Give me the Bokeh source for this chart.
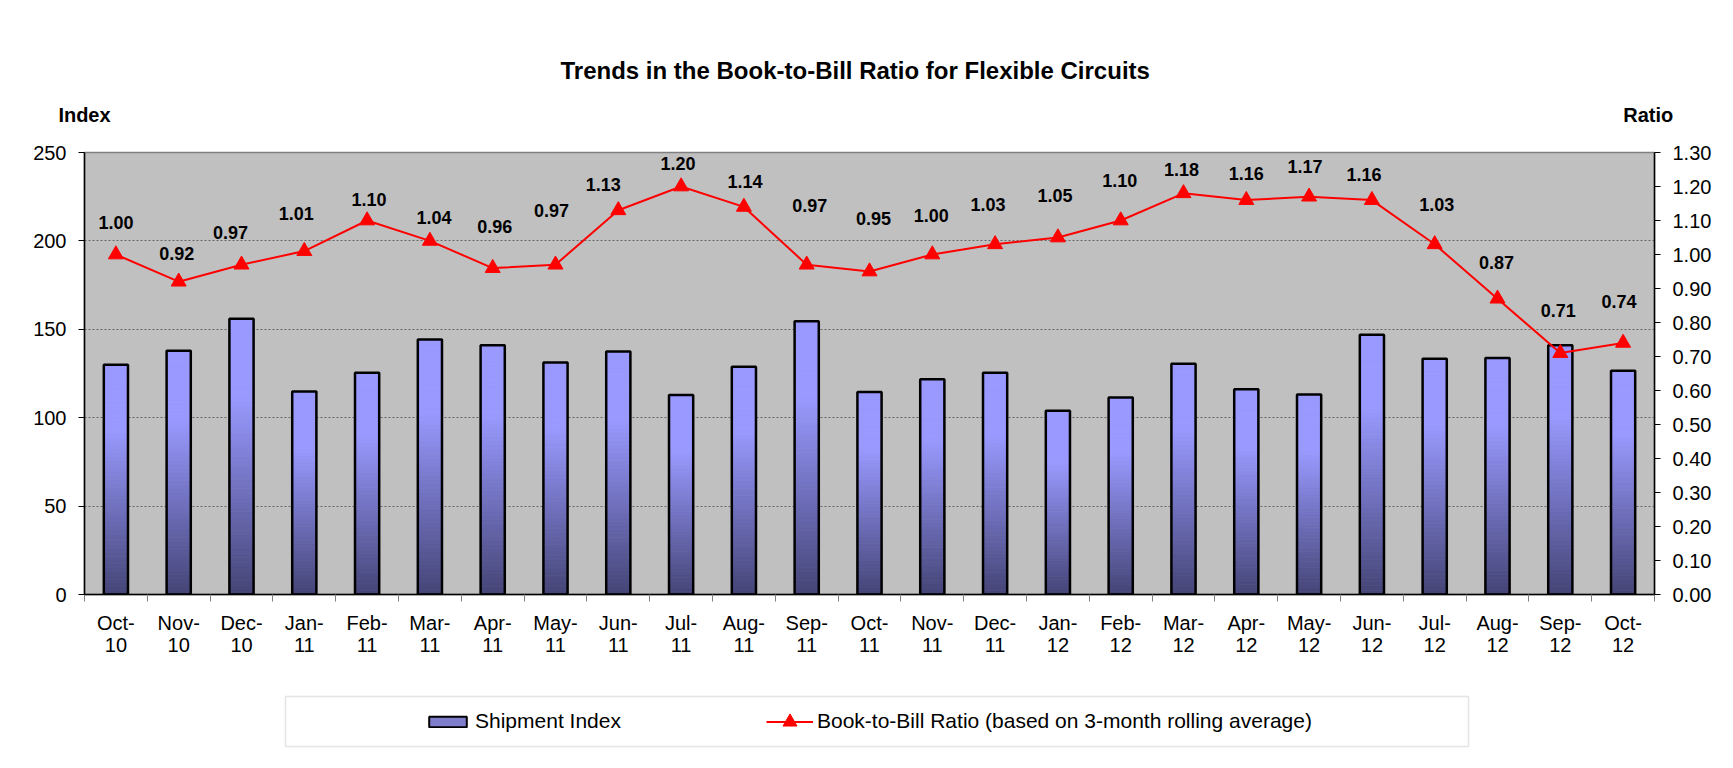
import numpy as np
from bokeh.plotting import figure
from bokeh.layouts import column
from bokeh.models import (Range1d, LinearAxis, FixedTicker, NumeralTickFormatter,
                          ColumnDataSource, Title, Legend, LegendItem, BoxAnnotation)
from bokeh.core.properties import value
from bokeh.embed import file_html
from bokeh.resources import INLINE

# ---------------- data ----------------
months = ["Oct-10", "Nov-10", "Dec-10", "Jan-11", "Feb-11", "Mar-11", "Apr-11", "May-11",
          "Jun-11", "Jul-11", "Aug-11", "Sep-11", "Oct-11", "Nov-11", "Dec-11", "Jan-12",
          "Feb-12", "Mar-12", "Apr-12", "May-12", "Jun-12", "Jul-12", "Aug-12", "Sep-12",
          "Oct-12"]
shipment_index = [130.0, 137.8, 155.9, 114.8, 125.4, 144.2, 141.0, 131.2, 137.4, 112.9,
                  128.8, 154.6, 114.6, 121.8, 125.4, 103.9, 111.4, 130.5, 116.1, 113.1,
                  146.9, 133.3, 133.7, 141.0, 126.5]
book_to_bill = [1.00, 0.92, 0.97, 1.01, 1.10, 1.04, 0.96, 0.97, 1.13, 1.20, 1.14, 0.97,
                0.95, 1.00, 1.03, 1.05, 1.10, 1.18, 1.16, 1.17, 1.16, 1.03, 0.87, 0.71, 0.74]
index_ticks = [0, 50, 100, 150, 200, 250]
index_grid = [50, 100, 150, 200]
ratio_ticks = [0.0, 0.1, 0.2, 0.3, 0.4, 0.5, 0.6, 0.7, 0.8, 0.9, 1.0, 1.1, 1.2, 1.3]
axis_titles = {0: "Index", 996: "Ratio"}   # placed along the top edge (per-mille of width)
chart_title = "Trends in the Book-to-Bill Ratio for Flexible Circuits"
legend_labels = ["Shipment Index", "Book-to-Bill Ratio (based on 3-month rolling average)"]

# data-label placement (screen pixel offsets, presentation only)
label_dx = [0, -2, -11, -8, 2, 4, 2, -4, -15, -3, 1, 3, 4, -1, -7, -3, -1, -2, 0, -4, -8, 2, -1, -2, -4]
label_dy = [-32, -28, -32, -38, -21, -23, -42, -54, -26, -23, -25, -59, -53, -39, -40, -42,
            -40, -24, -27, -30, -26, -40, -36, -43, -41]

FONT = "Liberation Sans"
BAR_W = 0.385
n = len(months)
xs = list(range(n))
FL, FR = 84, 1654          # frame left / right on the page (px)

p = figure(frame_width=FR - FL, frame_height=442, title=None,
           x_range=Range1d(-0.5, n - 0.5), y_range=Range1d(index_ticks[0], index_ticks[-1]),
           output_backend="svg", toolbar_location=None,
           min_border_left=FL, min_border_right=1733 - FR, min_border_top=152,
           min_border_bottom=64,
           background_fill_color="#C0C0C0", border_fill_color="white")
p.outline_line_color = "#808080"
p.outline_line_width = 1.5
p.extra_y_ranges = {"ratio": Range1d(ratio_ticks[0], ratio_ticks[-1])}
p.extra_x_ranges = {"lab": Range1d(0, 1000)}

# ---------------- gradient bars ----------------
light = np.array([153, 153, 255])
dark = np.array([68, 68, 118])
N = 60
sx, sb, st, sc = [], [], [], []
for i, v in enumerate(shipment_index):
    for k in range(N):
        mid = (k + 0.5) / N
        s = min(1.0, mid / 0.72)
        c = dark + (light - dark) * s
        sx.append(i)
        sb.append(v * k / N)
        st.append(v * (k + 1) / N)
        sc.append("#%02x%02x%02x" % tuple(int(round(t)) for t in c))
seg = ColumnDataSource(dict(x=sx, bottom=sb, top=st, color=sc))
p.vbar(x="x", bottom="bottom", top="top", width=BAR_W, source=seg,
       fill_color="color", line_color="color", line_width=0.8)
bar_src = ColumnDataSource(dict(x=xs, top=shipment_index))
p.vbar(x="x", top="top", width=BAR_W, source=bar_src, fill_alpha=0,
       line_color="black", line_width=2.5)

# ---------------- ratio line ----------------
ratio_src = ColumnDataSource(dict(x=xs, y=book_to_bill,
                                  lab=["%.2f" % r for r in book_to_bill],
                                  dx=label_dx, dy=label_dy))
p.line(x="x", y="y", source=ratio_src, y_range_name="ratio",
       line_color="#FF0000", line_width=2)
p.scatter(x="x", y="y", source=ratio_src, y_range_name="ratio", marker="triangle",
          size=15, fill_color="#FF0000", line_color="#FF0000")
p.text(x="x", y="y", text="lab", source=ratio_src, y_range_name="ratio",
       x_offset="dx", y_offset="dy", text_align="center", text_baseline="middle",
       text_font=value(FONT), text_font_size="18px", text_font_style="bold",
       text_color="black")

# ---------------- axes ----------------
xa = p.xaxis[0]
xa.ticker = FixedTicker(ticks=xs, minor_ticks=[i - 0.5 for i in range(n + 1)])
xa.major_label_overrides = {i: m.replace("-", "-\n") for i, m in enumerate(months)}
xa.major_tick_line_color = None
xa.major_tick_out = 0
xa.major_tick_in = 0
xa.minor_tick_out = 7
xa.minor_tick_in = 0
xa.minor_tick_line_color = "#808080"
xa.axis_line_color = "black"
xa.axis_line_width = 1.5
xa.major_label_standoff = 10
xa.major_label_text_font = FONT
xa.major_label_text_font_size = "20px"
xa.major_label_text_color = "black"
xa.major_label_text_line_height = 1.0

ya = p.yaxis[0]
ya.ticker = FixedTicker(ticks=index_ticks)
ya.major_tick_out = 6
ya.major_tick_in = 0
ya.minor_tick_line_color = None
ya.axis_line_color = "black"
ya.axis_line_width = 1.5
ya.major_label_standoff = 12
ya.major_label_text_font = FONT
ya.major_label_text_font_size = "20px"
ya.major_label_text_color = "black"

ra = LinearAxis(y_range_name="ratio", ticker=FixedTicker(ticks=ratio_ticks),
                formatter=NumeralTickFormatter(format="0.00"))
ra.major_tick_out = 6
ra.major_tick_in = 0
ra.minor_tick_line_color = None
ra.axis_line_color = "black"
ra.axis_line_width = 1.5
ra.major_label_standoff = 12
ra.major_label_text_font = FONT
ra.major_label_text_font_size = "20px"
ra.major_label_text_color = "black"
p.add_layout(ra, "right")

# "Index" / "Ratio" headings along the top edge
ta = LinearAxis(x_range_name="lab", ticker=FixedTicker(ticks=list(axis_titles.keys())))
ta.major_label_overrides = axis_titles
ta.axis_line_color = None
ta.major_tick_line_color = None
ta.minor_tick_line_color = None
ta.major_tick_out = 0
ta.major_tick_in = 0
ta.major_label_standoff = 27
ta.major_label_text_font = FONT
ta.major_label_text_font_size = "20px"
ta.major_label_text_font_style = "bold"
ta.major_label_text_color = "black"
p.add_layout(ta, "above")

p.add_layout(Title(text=chart_title, align="left", offset=476, standoff=34,
                   text_font=FONT, text_font_size="24px", text_font_style="bold",
                   text_color="black"), "above")

p.xgrid.visible = False
p.ygrid.ticker = FixedTicker(ticks=index_grid)
p.ygrid.grid_line_color = "#666666"
p.ygrid.grid_line_dash = "2 2"
p.ygrid.grid_line_width = 1

# ---------------- legend strip (separate figure below, page-pixel ranges) ----------------
LH = 110
q = figure(frame_width=FR - FL, frame_height=LH, x_range=Range1d(FL, FR), y_range=Range1d(0, LH),
           x_axis_location=None, y_axis_location=None, title=None,
           output_backend="svg", toolbar_location=None,
           min_border_left=FL, min_border_right=1733 - FR, min_border_top=0, min_border_bottom=0,
           background_fill_color="white", border_fill_color="white")
q.outline_line_color = None
q.xgrid.visible = False
q.ygrid.visible = False
q.add_layout(BoxAnnotation(left=285, right=1468, top=72, bottom=22,
                           fill_alpha=0, line_color="#A8A8A8", line_width=1.5))
# swatch renderers (hidden; only their legend glyphs are shown)
bar_sw = q.vbar(x=[xs[0]], top=[shipment_index[0]], width=BAR_W, fill_color="#7E7ECC",
                line_color="black", line_width=2, visible=False)
line_sw = q.line(x=[xs[0]], y=[book_to_bill[0]], line_color="#FF0000", line_width=2,
                 visible=False)
tri_sw = q.scatter(x=[xs[0]], y=[book_to_bill[0]], marker="triangle", size=15,
                   fill_color="#FF0000", line_color="#FF0000", visible=False)
common = dict(orientation="horizontal", padding=0, margin=0, spacing=0,
              glyph_width=47, label_standoff=4, label_height=24,
              label_text_font=FONT, label_text_font_size="21px",
              label_text_color="black", border_line_color=None,
              background_fill_alpha=0, inactive_fill_alpha=0)
q.add_layout(Legend(items=[LegendItem(label=legend_labels[0], renderers=[bar_sw])],
                    location=(424 - FL, 35), glyph_height=13, **common))
q.add_layout(Legend(items=[LegendItem(label=legend_labels[1], renderers=[line_sw, tri_sw])],
                    location=(766 - FL, 29.5), glyph_height=35, **common))

layout = column(p, q, spacing=0)
open("out.html", "w").write(file_html(layout, INLINE))
